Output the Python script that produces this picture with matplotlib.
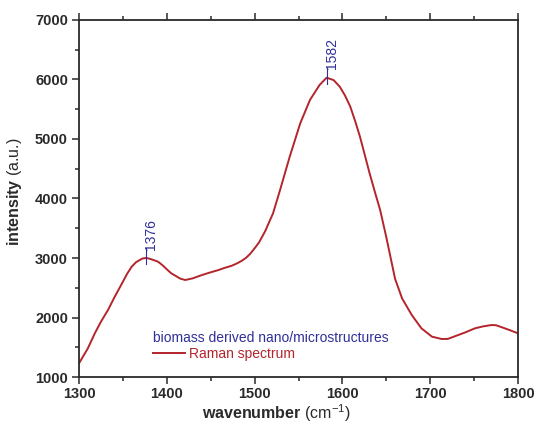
import matplotlib.pyplot as plt
from matplotlib.ticker import MultipleLocator

plt.rcParams["font.family"] = ["Liberation Sans", "DejaVu Sans"]
plt.rcParams["mathtext.fontset"] = "custom"
plt.rcParams["mathtext.rm"] = "Liberation Sans"
plt.rcParams["mathtext.bf"] = "Liberation Sans:bold"

# Raman spectrum (wavenumber in cm^-1, intensity in a.u.)
wavenumber = [1300, 1310, 1318, 1325, 1333, 1340, 1349, 1355, 1360, 1365, 1372,
              1376, 1380, 1385, 1390, 1395, 1400, 1405, 1410, 1415, 1421, 1430,
              1440, 1450, 1459, 1465, 1474, 1480, 1485, 1490, 1495, 1500, 1505,
              1512, 1521, 1529, 1540, 1552, 1563, 1574, 1582, 1590, 1597, 1603,
              1609, 1615, 1620, 1625, 1631, 1637, 1643, 1650, 1660, 1668, 1679,
              1690, 1702, 1713, 1720, 1732, 1740, 1751, 1760, 1770, 1775, 1785,
              1792, 1800]
intensity = [1230, 1480, 1734, 1930, 2126, 2330, 2575, 2740, 2854, 2930, 2990,
             3000, 2990, 2965, 2938, 2880, 2810, 2743, 2700, 2655, 2630, 2660,
             2714, 2760, 2798, 2830, 2870, 2910, 2950, 3000, 3070, 3163, 3260,
             3450, 3751, 4143, 4703, 5264, 5655, 5908, 6030, 5990, 5879, 5730,
             5543, 5280, 5039, 4760, 4423, 4110, 3807, 3350, 2650, 2320, 2042,
             1818, 1678, 1639, 1640, 1706, 1750, 1818, 1850, 1874, 1870, 1818,
             1780, 1734]

peaks = [1376, 1582]
peak_heights = [3000, 6030]

line_color = "#b3252b"
text_blue = "#2f2f9a"
axis_color = "#2a2a2a"

fig = plt.figure(figsize=(5.35, 4.29), dpi=100)
ax = fig.add_axes([0.1477, 0.1212, 0.8205, 0.8322])

ax.plot(wavenumber, intensity, color=line_color, linewidth=1.4,
        label="Raman spectrum")

# peak markers with rotated labels
for x, h in zip(peaks, peak_heights):
    ax.plot([x, x], [h - 100, h + 170], color=text_blue, linewidth=0.8)
    ax.annotate(str(x), xy=(x, h), xytext=(4, 6), textcoords="offset points",
                rotation=90, ha="center", va="bottom", fontsize=10,
                color=text_blue)

ax.set_xlim(1300, 1800)
ax.set_ylim(1000, 7000)
ax.xaxis.set_major_locator(MultipleLocator(100))
ax.xaxis.set_minor_locator(MultipleLocator(50))
ax.yaxis.set_major_locator(MultipleLocator(1000))
ax.yaxis.set_minor_locator(MultipleLocator(500))

ax.tick_params(which="both", direction="out", colors=axis_color, width=1.1,
               top=True, right=False, labelsize=10.5)
ax.tick_params(axis="x", pad=2)
ax.tick_params(axis="y", pad=3)
ax.tick_params(which="major", length=5)
ax.tick_params(which="minor", length=3)
for lab in ax.get_xticklabels() + ax.get_yticklabels():
    lab.set_fontweight("bold")
for sp in ax.spines.values():
    sp.set_linewidth(1.3)
    sp.set_color(axis_color)

ax.set_xlabel(r"$\mathbf{wavenumber}$ (cm$^{-1}$)", fontsize=11.5,
              color=axis_color)
ax.set_ylabel(r"$\mathbf{intensity}$ (a.u.)", fontsize=11.5, color=axis_color)
ax.xaxis.set_label_coords(0.45, -0.072)
ax.yaxis.set_label_coords(-0.125, 0.52)

leg = ax.legend(loc="upper left", bbox_to_anchor=(0.168, 0.128), frameon=False,
                title="biomass derived nano/microstructures",
                alignment="left", fontsize=10, title_fontsize=10,
                handlelength=2.3, handletextpad=0.3, borderpad=0,
                borderaxespad=0, labelspacing=0.1)
leg.get_title().set_color(text_blue)
for t in leg.get_texts():
    t.set_color(line_color)

fig.savefig("out.png", dpi=100)
